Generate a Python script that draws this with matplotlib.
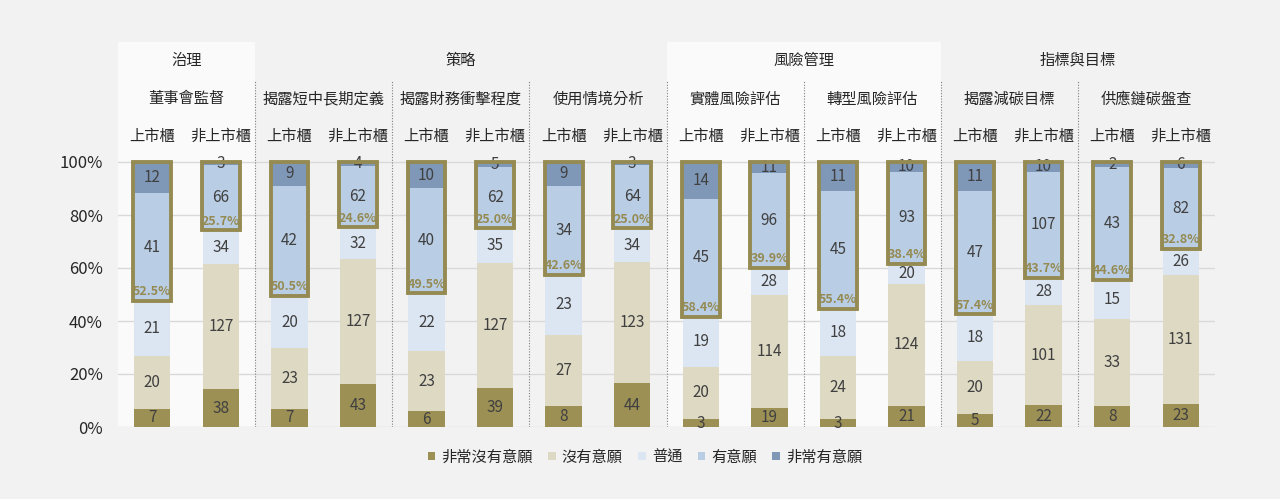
import numpy as np
import matplotlib
matplotlib.use('Agg')
import matplotlib.pyplot as plt
from matplotlib.patches import Rectangle

plt.rcParams['font.family'] = ['Noto Sans CJK TC', 'DejaVu Sans']

# 資料
pillars = ['治理', '策略', '風險管理', '指標與目標']
pillar_sizes = [1, 3, 2, 2]
topics = ['董事會監督', '揭露短中長期定義', '揭露財務衝擊程度', '使用情境分析',
          '實體風險評估', '轉型風險評估', '揭露減碳目標', '供應鏈碳盤查']
firm_types = ['上市櫃', '非上市櫃']
levels = ['非常沒有意願', '沒有意願', '普通', '有意願', '非常有意願']

very_unwilling = [7, 38, 7, 43, 6, 39, 8, 44, 3, 19, 3, 21, 5, 22, 8, 23]
unwilling = [20, 127, 23, 127, 23, 127, 27, 123, 20, 114, 24, 124, 20, 101, 33, 131]
neutral = [21, 34, 20, 32, 22, 35, 23, 34, 19, 28, 18, 20, 18, 28, 15, 26]
willing = [41, 66, 42, 62, 40, 62, 34, 64, 45, 96, 45, 93, 47, 107, 43, 82]
very_willing = [12, 3, 9, 4, 10, 5, 9, 3, 14, 11, 11, 10, 11, 10, 2, 6]

colors = ['#9c9055', '#ddd9c3', '#dce6f2', '#b9cde5', '#7f98b8']
box_color = '#958b52'
text_color = '#404040'

counts = np.array([very_unwilling, unwilling, neutral, willing, very_willing], dtype=float)
totals = counts.sum(axis=0)
pct = counts / totals * 100

fig = plt.figure(figsize=(12.8, 4.99), dpi=100)
fig.patch.set_facecolor('#f2f2f2')
# 軸區域: 左 118px 右 1215px, 下 427px 上 42px
ax = fig.add_axes([118 / 1280, (499 - 427) / 499, (1215 - 118) / 1280, (427 - 42) / 499])
ax.set_facecolor('none')
ytop = (427 - 42) / 2.65
ax.set_xlim(0, 16)
ax.set_ylim(0, ytop)

# 淺色背景 (治理, 風險管理)
start = 0
for i, (p, n) in enumerate(zip(pillars, pillar_sizes)):
    if i % 2 == 0:
        ax.add_patch(Rectangle((start * 2, 0), n * 2, ytop, facecolor='#fafafa',
                               edgecolor='none', zorder=0))
    ax.text(start * 2 + n, (427 - 60) / 2.65, p, ha='center', va='center',
            fontsize=11, color='#262626')
    start += n

# 格線
for y in range(0, 101, 20):
    ax.plot([0, 16], [y, y], color='#d9d9d9', lw=1, zorder=1)

# 分隔線
for k in range(1, 8):
    ax.plot([2 * k, 2 * k], [0, (427 - 80) / 2.65], color='#7f7f7f', lw=0.8,
            ls=(0, (1, 1.5)), zorder=1)

for g, t in enumerate(topics):
    ax.text(2 * g + 1, (427 - 99) / 2.65, t, ha='center', va='center',
            fontsize=11, color='#262626')
    for j, ft in enumerate(firm_types):
        ax.text(2 * g + 0.5 + j, (427 - 136) / 2.65, ft, ha='center', va='center',
                fontsize=11, color='#262626')

x = np.arange(16) + 0.5
width = 0.53
bottom = np.zeros(16)
for k in range(5):
    ax.bar(x, pct[k], width, bottom=bottom, color=colors[k], label=levels[k],
           zorder=2, edgecolor='none')
    for i in range(16):
        ax.text(x[i], bottom[i] + pct[k][i] / 2, f'{int(counts[k][i])}',
                ha='center', va='center', fontsize=11, color=text_color, zorder=4)
    bottom = bottom + pct[k]

# 有意願 + 非常有意願 外框
for i in range(16):
    b = pct[0][i] + pct[1][i] + pct[2][i]
    ax.add_patch(Rectangle((x[i] - width / 2 - 0.01, b), width + 0.02, 100 - b,
                           fill=False, edgecolor=box_color, lw=2.8, zorder=5))
    share = (counts[3][i] + counts[4][i]) / totals[i] * 100
    ax.text(x[i], b + 1.0, f'{share:.1f}%', ha='center', va='bottom',
            fontsize=9, fontweight='bold', color=box_color, zorder=5)

ax.set_yticks(range(0, 101, 20))
ax.set_yticklabels([f'{v}%' for v in range(0, 101, 20)], fontsize=12, color='#262626')
ax.set_xticks([])
ax.tick_params(axis='y', length=0, pad=11)
for s in ax.spines.values():
    s.set_visible(False)

handles, labels = ax.get_legend_handles_labels()
fig.legend(handles, labels, loc='center', bbox_to_anchor=(645 / 1280, (499 - 457) / 499),
           ncol=5, frameon=False, fontsize=11, handlelength=0.5, handleheight=0.5,
           columnspacing=1.0, handletextpad=0.4, labelcolor='#262626')

fig.savefig('out.png', dpi=100, facecolor=fig.get_facecolor())
